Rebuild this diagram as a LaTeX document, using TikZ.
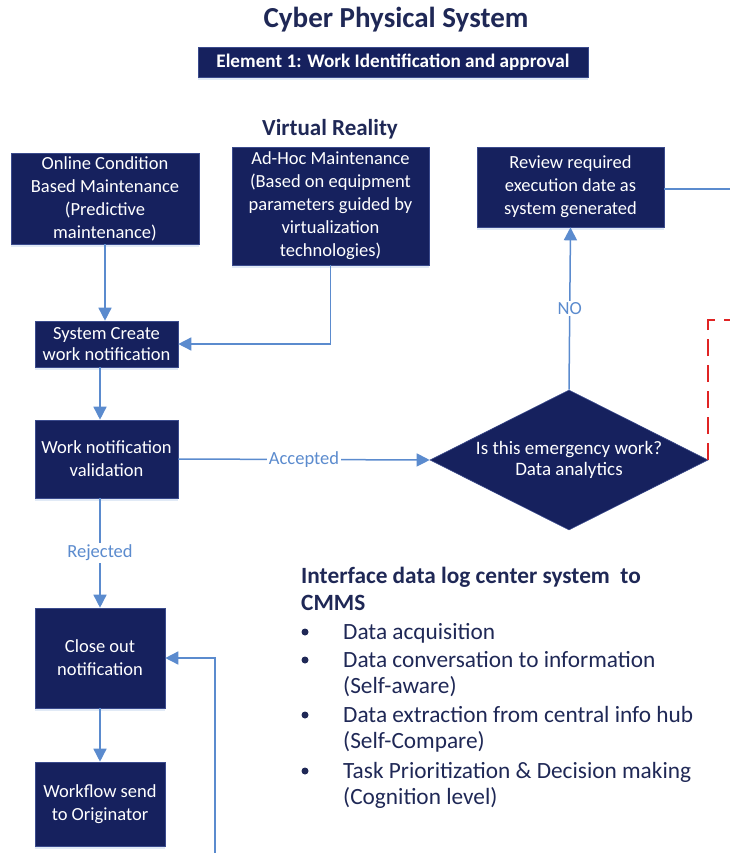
\documentclass[tikz,border=0pt]{standalone}
\usepackage{fontspec}
\setmainfont{Carlito}
\usetikzlibrary{arrows.meta,shapes.geometric,shadows}

\definecolor{navy}{HTML}{16215E}
\definecolor{navyedge}{HTML}{3A4A8C}
\definecolor{flow}{HTML}{5B8BCE}
\definecolor{ink}{HTML}{1F2856}
\definecolor{alarm}{HTML}{E02424}

\tikzset{
  procbox/.style={rectangle, fill=navy, draw=navyedge, line width=0.6pt,
    text=white, align=center, inner sep=0pt,
    font=\fontsize{18.5}{23}\selectfont,
    drop shadow={shadow xshift=0pt, shadow yshift=-3pt, opacity=0.18, fill=flow}},
  decision/.style={diamond, fill=navy, draw=navyedge, line width=0.6pt,
    text=white, align=center, inner sep=0pt, aspect=2,
    font=\fontsize{19}{21.5}\selectfont},
  flowline/.style={draw=flow, line width=1.5pt},
  flowarrow/.style={flowline, -{Triangle[width=13pt,length=13pt]}},
  flowlabel/.style={fill=white, text=flow, inner sep=1.5pt,
    font=\fontsize{18.5}{20}\selectfont},
  alarmline/.style={draw=alarm, line width=1.8pt, dash pattern=on 17pt off 9pt},
  listtext/.style={anchor=base west, text=ink, inner sep=0pt,
    font=\fontsize{23.3}{26}\selectfont},
  listhead/.style={listtext, font=\fontsize{23.3}{26}\selectfont\bfseries},
  bullet/.style={circle, fill=ink, inner sep=0pt, minimum size=7pt}
}

\begin{document}
\begin{tikzpicture}[x=1pt, y=-1pt]
  \useasboundingbox (0,0) rectangle (730,853);

  % headings
  \node[text=ink, font=\fontsize{29}{32}\selectfont\bfseries] (title) at (396,20) {Cyber Physical System};
  \node[procbox, minimum width=390pt, minimum height=30pt,
        font=\fontsize{19.2}{21}\selectfont\bfseries] (element) at (393,62)
        {Element 1: Work Identification and approval};
  \node[text=ink, font=\fontsize{23}{26}\selectfont\bfseries] (vr) at (330,129) {Virtual Reality};

  % process steps
  \node[procbox, minimum width=188pt, minimum height=91pt] (online) at (105,198.5)
    {Online Condition\\Based Maintenance\\(Predictive\\maintenance)};
  \node[procbox, minimum width=197pt, minimum height=118pt] (adhoc) at (330.5,206)
    {Ad-Hoc Maintenance\\(Based on equipment\\parameters guided by\\virtualization\\technologies)};
  \node[procbox, minimum width=187pt, minimum height=80pt] (review) at (570.5,187)
    {Review required\\execution date as\\system generated};
  \node[procbox, minimum width=143pt, minimum height=46pt,
        font=\fontsize{18.5}{21}\selectfont] (create) at (106.5,344)
    {System Create\\work notification};
  \node[procbox, minimum width=143pt, minimum height=78pt] (valid) at (106.5,459)
    {Work notification\\validation};
  \node[procbox, minimum width=130pt, minimum height=100pt] (close) at (100,658)
    {Close out\\notification};
  \node[procbox, minimum width=130pt, minimum height=84pt] (workflow) at (100,804)
    {Workflow send\\to Originator};
  \node[decision, minimum width=278pt, minimum height=140pt] (emerg) at (569,460)
    {Is this emergency work?\\Data analytics};

  % free ends of lines leaving the frame
  \coordinate (reviewout) at (730,189);
  \coordinate (alarmout) at (730,320);
  \coordinate (returnin) at (215,853);

  % connectors
  \draw[flowarrow] (online.south) -- (online.south |- create.north);
  \draw[flowarrow] (adhoc.south) |- (create.east);
  \draw[flowarrow] (create.south -| close.north) -- (valid.north -| close.north);
  \draw[flowarrow] (valid.east) -- node[flowlabel] {Accepted} (emerg.west);
  \draw[flowarrow] (emerg.north) -- node[flowlabel] {NO} (review.south);
  \draw[flowarrow] (valid.south -| close.north) -- node[flowlabel] {Rejected} (close.north);
  \draw[flowarrow] (close.south) -- (workflow.north);
  \draw[flowarrow] (returnin) |- (close.east);
  \draw[flowline] (review.east |- reviewout) -- (reviewout);
  \draw[alarmline] (emerg.east) |- (alarmout);

  % interface notes
  \node[listhead] (h1) at (301,583) {Interface data log center system\ \ to};
  \node[listhead] (h2) at (301,610) {CMMS};
  \node[listtext] (l1) at (343,639) {Data acquisition};
  \node[listtext] (l2) at (343,667) {Data conversation to information};
  \node[listtext] (l2b) at (343,693) {(Self-aware)};
  \node[listtext] (l3) at (343,722) {Data extraction from central info hub};
  \node[listtext] (l3b) at (343,748) {(Self-Compare)};
  \node[listtext] (l4) at (343,778) {Task Prioritization \& Decision making};
  \node[listtext] (l4b) at (343,804) {(Cognition level)};
  \node[bullet] (b1) at (305,632) {};
  \node[bullet] (b2) at (305,660) {};
  \node[bullet] (b3) at (305,715) {};
  \node[bullet] (b4) at (305,771) {};
\end{tikzpicture}
\end{document}
